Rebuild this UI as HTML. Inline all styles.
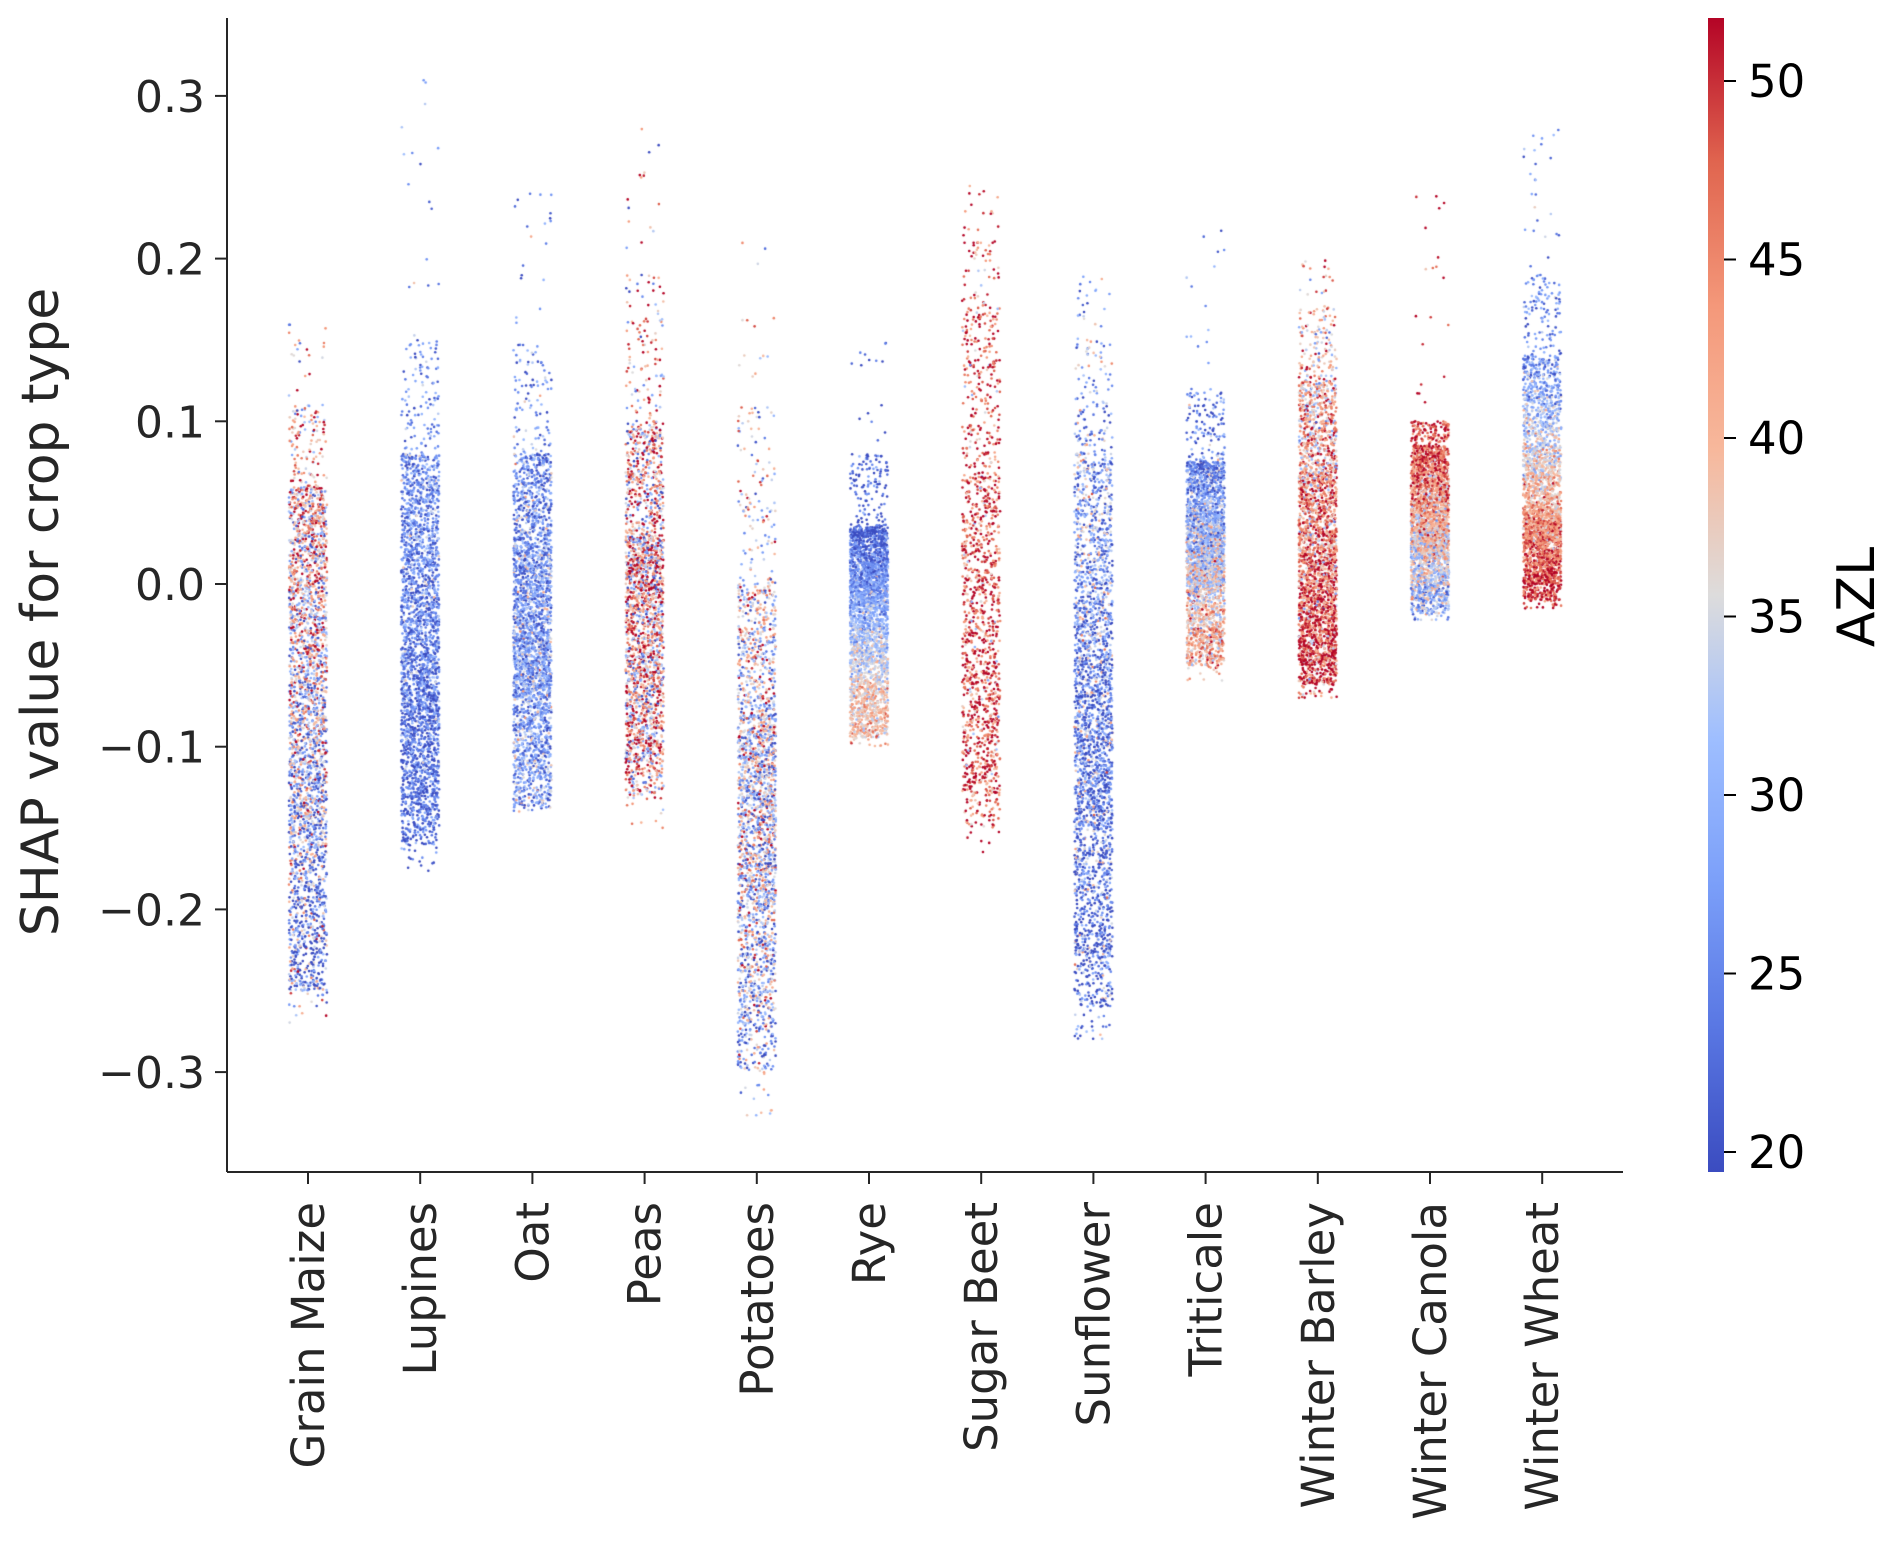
<!DOCTYPE html>
<html><head><meta charset="utf-8">
<style>
html,body{margin:0;padding:0;background:#fff;}
#wrap{position:relative;width:1886px;height:1546px;overflow:hidden;font-family:"DejaVu Sans","Liberation Sans",sans-serif;color:#262626;}
canvas{position:absolute;left:0;top:0;}
svg{position:absolute;left:0;top:0;}
</style></head>
<body>
<div id="wrap">
<canvas id="pts" width="1886" height="1546"></canvas>
<svg id="ax" width="1886" height="1546">
<defs><linearGradient id="cg" x1="0" y1="1" x2="0" y2="0">
<stop offset="0" stop-color="#3b4cc0"/><stop offset="0.125" stop-color="#5977e3"/><stop offset="0.25" stop-color="#7b9ff9"/><stop offset="0.375" stop-color="#9ebeff"/><stop offset="0.5" stop-color="#dddcdc"/><stop offset="0.625" stop-color="#f7b89c"/><stop offset="0.75" stop-color="#f4987a"/><stop offset="0.875" stop-color="#e0654f"/><stop offset="1" stop-color="#b40426"/>
</linearGradient></defs>
</svg>
</div>
<script>
const categories=["Grain Maize","Lupines","Oat","Peas","Potatoes","Rye","Sugar Beet","Sunflower","Triticale","Winter Barley","Winter Canola","Winter Wheat"];
const counts=[2800,2800,2800,2200,2400,2800,1400,2800,2800,2800,2800,2800];
const qMin=[-0.27,-0.177,-0.14,-0.15,-0.33,-0.1,-0.165,-0.28,-0.06,-0.07,-0.022,-0.015];
const q01=[-0.25,-0.16,-0.135,-0.13,-0.30,-0.095,-0.15,-0.26,-0.05,-0.062,-0.018,-0.01];
const q05=[-0.23,-0.14,-0.12,-0.11,-0.27,-0.085,-0.13,-0.23,-0.04,-0.05,-0.01,0.0];
const q25=[-0.15,-0.09,-0.07,-0.06,-0.2,-0.05,-0.08,-0.15,-0.005,-0.02,0.015,0.025];
const q50=[-0.08,-0.04,-0.03,-0.01,-0.14,-0.015,-0.01,-0.08,0.02,0.02,0.035,0.045];
const q75=[0.0,0.02,0.02,0.03,-0.08,0.01,0.07,-0.01,0.045,0.07,0.06,0.085];
const q95=[0.06,0.08,0.08,0.1,0.0,0.035,0.17,0.08,0.075,0.125,0.085,0.14];
const q99=[0.11,0.15,0.15,0.19,0.11,0.08,0.22,0.15,0.12,0.17,0.1,0.19];
const qMax=[0.16,0.31,0.24,0.28,0.21,0.16,0.245,0.19,0.22,0.2,0.245,0.285];
const azlBottom=[24,23,28,40,30,40,48,23,42,50,30,50];
const azlTop=[42,26,26,40,36,21,48,28,24,40,50,25];
const azlSpread=[11,5,6,12,10,4,7,8,6,8,6,5];
const yTicks=[-0.3,-0.2,-0.1,0.0,0.1,0.2,0.3];
const yTickLabels=["\u22120.3","\u22120.2","\u22120.1","0.0","0.1","0.2","0.3"];
const cTicks=[20,25,30,35,40,45,50];

const L=227,R=1623,T=18,B=1172;
const yS=v=>584-v*1627;
const xS=i=>308+i*112.2;
const cS=v=>1152-(v-20)*35.7;
const NS="http://www.w3.org/2000/svg";
const svg=document.getElementById('ax');
function mk(t,a,txt){const e=document.createElementNS(NS,t);for(const k in a)e.setAttribute(k,a[k]);if(txt!=null)e.textContent=txt;svg.appendChild(e);return e;}

const cmS=[0,0.125,0.25,0.375,0.5,0.625,0.75,0.875,1];
const cmC=[[59,76,192],[89,119,227],[123,159,249],[158,190,255],[221,220,220],[247,184,156],[244,152,122],[224,101,79],[180,4,38]];
function cmap(t){t=Math.max(0,Math.min(1,t));for(let i=0;i<8;i++){if(t<=cmS[i+1]){const f=(t-cmS[i])/(cmS[i+1]-cmS[i]);const a=cmC[i],b=cmC[i+1];return `rgb(${Math.round(a[0]+(b[0]-a[0])*f)},${Math.round(a[1]+(b[1]-a[1])*f)},${Math.round(a[2]+(b[2]-a[2])*f)})`;}}return 'rgb(180,4,38)';}
let seed=12345;function rnd(){seed=(seed*1664525+1013904223)>>>0;return seed/4294967296;}
function gauss(){return Math.sqrt(-2*Math.log(rnd()+1e-9))*Math.cos(2*Math.PI*rnd());}

const ctx=document.getElementById('pts').getContext('2d');
const qs=[0,0.006,0.05,0.25,0.5,0.75,0.95,0.994,1];
for(let c=0;c<categories.length;c++){
  const qv=[qMin[c],q01[c],q05[c],q25[c],q50[c],q75[c],q95[c],q99[c],qMax[c]];
  for(let k=0;k<counts[c];k++){
    let u=rnd();let v=qv[4];
    for(let j=0;j<qs.length-1;j++){if(u<=qs[j+1]){const f=(u-qs[j])/(qs[j+1]-qs[j]);v=qv[j]+(qv[j+1]-qv[j])*f;break;}}
    let az=azlBottom[c]+(azlTop[c]-azlBottom[c])*Math.min(1,Math.max(0,(v-q05[c])/(q95[c]-q05[c])))+gauss()*azlSpread[c];
    const t=(az-19.44)/(51.76-19.44);
    ctx.fillStyle=cmap(t);
    const x=xS(c)+(rnd()-0.5)*38;
    ctx.beginPath();ctx.arc(x,yS(v),1.3,0,Math.PI*2);ctx.fill();
  }
}

mk('line',{x1:L,y1:T,x2:L,y2:B,stroke:'#262626','stroke-width':2,});
mk('line',{x1:L,y1:B,x2:R,y2:B,stroke:'#262626','stroke-width':2,});
yTicks.forEach((v,i)=>{
  mk('line',{x1:L-12,y1:yS(v),x2:L,y2:yS(v),stroke:'#262626','stroke-width':2});
  const t=mk('text',{x:L-22,y:yS(v)+16,'text-anchor':'end','font-size':44,fill:'#262626'},yTickLabels[i]);
  
});
categories.forEach((n,i)=>{
  mk('line',{x1:xS(i),y1:B,x2:xS(i),y2:B+12,stroke:'#262626','stroke-width':2});
  const t=mk('text',{transform:`translate(${xS(i)+16},${B+30}) rotate(-90)`,'text-anchor':'end','font-size':45,fill:'#262626'},n);
  
});
const yl=mk('text',{transform:'translate(58,612) rotate(-90)','text-anchor':'middle','font-size':52,fill:'#262626'},'SHAP value for crop type');


const cb=mk('rect',{x:1708,y:T,width:16,height:B-T,fill:'url(#cg)'});

cTicks.forEach(v=>{
  mk('line',{x1:1724,y1:cS(v),x2:1736,y2:cS(v),stroke:'#000','stroke-width':2});
  const t=mk('text',{x:1748,y:cS(v)+16,'font-size':45,fill:'#000'},String(v));
  
});
const cl=mk('text',{transform:'translate(1874,597) rotate(-90)','text-anchor':'middle','font-size':52,fill:'#000'},'AZL');

</script>
</body></html>
